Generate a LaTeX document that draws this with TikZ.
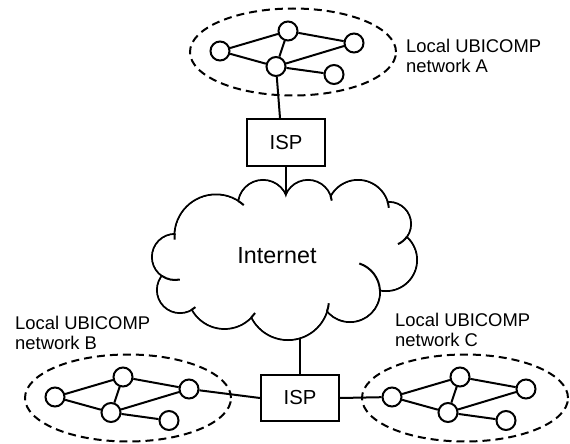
\documentclass[tikz,border=0pt]{standalone}
\usepackage{fontspec}
\setmainfont{Liberation Sans}
\usetikzlibrary{shapes.geometric,calc}
\tikzset{
  ln/.style={line width=2pt},
  dev/.style={circle, draw, line width=2pt, minimum size=19pt, inner sep=0pt, fill=white},
  netell/.style={ellipse, draw, line width=2pt, dash pattern=on 8pt off 5pt, minimum width=206pt, minimum height=87pt, inner sep=0pt},
  ispbox/.style={rectangle, draw, line width=2pt, minimum width=78pt, minimum height=46pt, inner sep=0pt, fill=white, font=\fontsize{20.3}{22}\selectfont},
  lbl/.style={align=left, anchor=base west, inner sep=0pt, font=\fontsize{18.4}{20.3}\selectfont},
  cloudln/.style={line width=2pt},
}
\newcommand\ubinet[2]{%
  \begin{scope}[shift={#2}]
    \node[netell] (#1e) at (0,0) {};
    \node[dev] (#1n1) at (-73,-1) {};
    \node[dev] (#1n2) at (-5,-21) {};
    \node[dev] (#1n3) at (61,-9) {};
    \node[dev] (#1n4) at (-17,14.5) {};
    \node[dev] (#1n5) at (41,22.5) {};
  \end{scope}
  \draw[ln] (#1n1) -- (#1n2);
  \draw[ln] (#1n1) -- (#1n4);
  \draw[ln] (#1n2) -- (#1n4);
  \draw[ln] (#1n2) -- (#1n3);
  \draw[ln] (#1n4) -- (#1n3);
  \draw[ln] (#1n4) -- (#1n5);
}
\begin{document}
\begin{tikzpicture}[x=1pt,y=-1pt]
\path[use as bounding box] (0,0) rectangle (570,444);

% cloud: union of circles
\def\cloudcircles{263/205/25, 308/204/24, 358/211/31, 389/224/22, 386/260/31, 350/292/30, 288/299/41, 224.5/291.6/37.3, 180/290/23, 175/257/23, 216/236/41.5}
\foreach \cx/\cy/\r in \cloudcircles {\draw[cloudln] (\cx,\cy) circle[radius=\r];}
\foreach \cx/\cy/\r in \cloudcircles {\fill[white] (\cx,\cy) circle[radius=\r-1];}
\fill[white] (263,205) -- (308,204) -- (358,211) -- (389,224) -- (386,260) -- (350,292) -- (288,299) -- (224.5,291.6) -- (180,290) -- (175,257) -- (216,236) -- cycle;
% curls at the junctions
\foreach \cx/\cy/\r/\a/\b in {216/236/41.5/-57.5/-48, 308/204/24/-19/-8, 358/211/31/-17/-6, 389/224/22/36/66, 350/292/30/-72/-3, 288/299/41/17.4/6, 224.5/291.6/37.3/44/35, 180/290/23/59/48, 175/257/23/124.7/78, 216/236/41.5/182.8/175}
  {\draw[cloudln] (\cx,\cy) ++(\a:\r) arc[start angle=\a, end angle=\b, radius=\r];}
\node[font=\fontsize{23.3}{26}\selectfont, anchor=base, inner sep=0pt] (inet) at (277,263.3) {Internet};
\coordinate (cloudtop) at (286,194.6);
\coordinate (cloudbot) at (300,338);

% ISP boxes
\node[ispbox, minimum height=47pt] (ispA) at (286,142.5) {ISP};
\node[ispbox] (ispB) at (300,398) {ISP};

% local networks
\ubinet{a}{(293,52)}
\ubinet{b}{(128,398)}
\ubinet{c}{(465,398)}

% connectors
\draw[ln] (an4) -- ($(ispA.north)+(-6,0)$);
\draw[ln] (ispA.south) -- (cloudtop);
\draw[ln] (cloudbot) -- (ispB.north);
\draw[ln] (bn3) -- (ispB.west);
\draw[ln] (ispB.east) -- (cn1);

% labels (anchor is the baseline of the last line)
\node[lbl] (labA) at (406,72.3) {Local UBICOMP\\network A};
\node[lbl] (labB) at (15,349.5) {Local UBICOMP\\network B};
\node[lbl] (labC) at (395,346.7) {Local UBICOMP\\network C};
\end{tikzpicture}
\end{document}
